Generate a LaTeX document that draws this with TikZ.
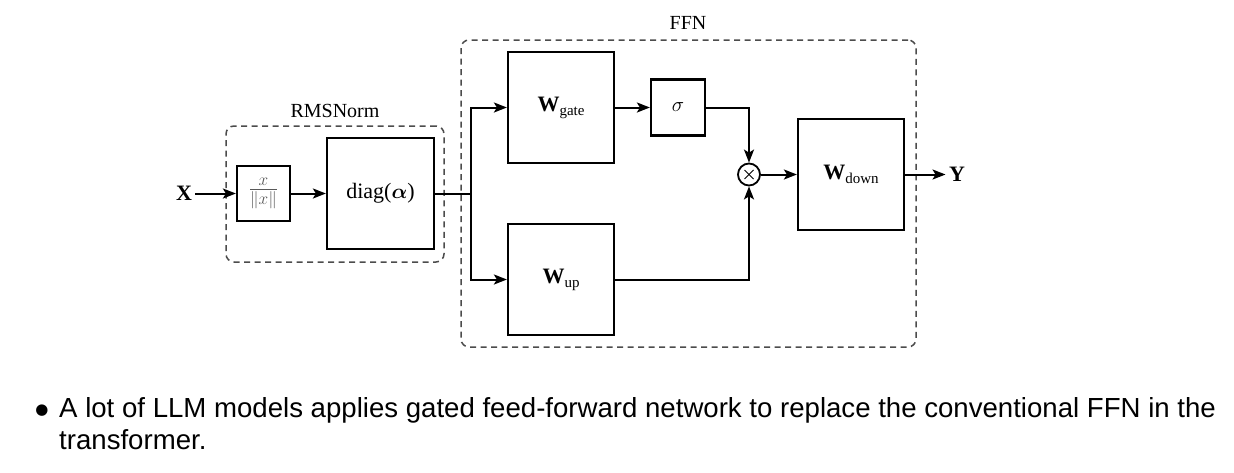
\documentclass[tikz,border=0pt]{standalone}
\usepackage{amsmath}
\usepackage{bm}
\usepackage{fontspec}
\setmainfont{Liberation Serif}
\newfontfamily\arialf{Liberation Sans}
\newfontfamily\dejavu{DejaVu Sans}
\usetikzlibrary{arrows.meta}
\begin{document}
\begin{tikzpicture}[x=1pt,y=-1pt,
  every node/.style={font=\fontsize{20}{24}\selectfont},
  blk/.style={draw, line width=2.2pt, inner sep=0pt},
  dashbox/.style={draw=black!70, line width=1.5pt, dash pattern=on 6pt off 4.5pt, rounded corners=8pt, inner sep=0pt},
  conn/.style={line width=2pt},
  arr/.style={conn, -{Stealth[length=13pt,width=10pt,inset=3pt]}},
  wlbl/.style={font=\fontsize{22}{24}\selectfont},
]
\useasboundingbox (0,0) rectangle (1234,472);
% dashed groups
\node[dashbox, minimum width=218pt, minimum height=136pt] (rms) at (335,194) {};
\node (rmslbl) at (335,111) {RMSNorm};
\node[dashbox, minimum width=455pt, minimum height=307pt] (ffn) at (688.5,193.5) {};
\node (ffnlbl) at (688,23) {FFN};
% blocks
\node[font=\fontsize{22}{24}\selectfont] (X) at (184,193.5) {\textbf{X}};
\node[blk, minimum width=53pt, minimum height=55pt, text=black!65, font=\fontsize{26}{28}\selectfont] (nrm) at (263.5,193.5) {$\frac{x}{\|x\|}$};
\node[blk, minimum width=107pt, minimum height=111pt, font=\fontsize{22}{24}\selectfont] (diag) at (380.5,193.5) {diag($\bm{\alpha}$)};
\coordinate (jn) at (471,193.5);
\node[blk, wlbl, minimum width=106pt, minimum height=111pt] (wgate) at (561,107.5) {\textbf{W}\raisebox{-0.4ex}{\fontsize{15}{15}\selectfont gate}};
\node[blk, wlbl, minimum width=106pt, minimum height=111pt] (wup) at (561,279.5) {\textbf{W}\raisebox{-0.4ex}{\fontsize{15}{15}\selectfont up}};
\node[blk, minimum width=54pt, minimum height=56pt, font=\fontsize{22}{24}\selectfont] (sig) at (678,107.5) {$\sigma$};
\node[draw, circle, line width=1.8pt, minimum size=22pt, inner sep=0pt,
  path picture={\draw[line width=1pt] (path picture bounding box.north west) ++(6.5pt,-6.5pt) -- ++(9pt,-9pt);
                \draw[line width=1pt] (path picture bounding box.north east) ++(-6.5pt,-6.5pt) -- ++(-9pt,-9pt);}] (mul) at (749,174.5) {};
\node[blk, wlbl, minimum width=106pt, minimum height=111pt] (wdown) at (851,174.5) {\textbf{W}\raisebox{-0.4ex}{\fontsize{15}{15}\selectfont down}};
\node[font=\fontsize{22}{24}\selectfont] (Y) at (957,174.5) {\textbf{Y}};
% connectors
\draw[arr] (X) -- (nrm);
\draw[arr] (nrm) -- (diag);
\draw[conn] (diag.east) -- (jn);
\draw[arr] (jn) |- (wgate.west);
\draw[arr] (jn) |- (wup.west);
\draw[arr] (wgate) -- (sig);
\draw[arr] (sig.east) -| (mul.north);
\draw[arr] (wup.east) -| (mul.south);
\draw[arr] (mul) -- (wdown);
\draw[arr] (wdown) -- (Y);
% bullet text
\node[anchor=center, font=\dejavu\fontsize{15}{15}\selectfont] (bul) at (42,411) {●};
\node[anchor=base west, inner sep=0pt, font=\arialf\fontsize{27.6}{32}\selectfont] (txt1) at (59,417) {A lot of LLM models applies gated feed-forward network to replace the conventional FFN in the};
\node[anchor=base west, inner sep=0pt, font=\arialf\fontsize{27.6}{32}\selectfont] (txt2) at (59,449) {transformer.};
\end{tikzpicture}
\end{document}
